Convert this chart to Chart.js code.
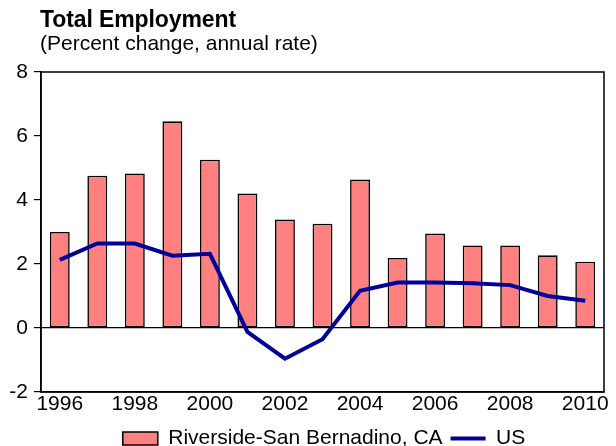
<!DOCTYPE html>
<html>
<head>
<meta charset="utf-8">
<script src="https://cdn.jsdelivr.net/npm/chart.js@4.4.1/dist/chart.umd.min.js"></script>
<style>
  body { margin: 0; background: #fff; }
  #wrap { position: relative; width: 616px; height: 446px; }
  .t { position: absolute; left: 40px; font-family: 'Liberation Sans', Arial, sans-serif; color: #000; line-height: 1; white-space: nowrap; }
  #title { top: 8px; font-size: 23px; font-weight: bold; letter-spacing: -0.1px; }
  #subtitle { top: 32px; font-size: 21px; }
</style>
</head>
<body>
<div id="wrap">
  <div class="t" id="title">Total Employment</div>
  <div class="t" id="subtitle">(Percent change, annual rate)</div>
  <canvas id="chart"></canvas>
</div>
<script>
// Dados
const years = ['1996', '1997', '1998', '1999', '2000', '2001', '2002', '2003', '2004', '2005', '2006', '2007', '2008', '2009', '2010'];
const riverside = [3.0, 4.76, 4.83, 6.46, 5.26, 4.2, 3.39, 3.26, 4.64, 2.19, 2.95, 2.58, 2.58, 2.27, 2.07];
const us = [2.13, 2.64, 2.64, 2.26, 2.32, -0.12, -0.96, -0.35, 1.16, 1.42, 1.42, 1.40, 1.34, 1.0, 0.85];
const yTicks = [-2, 0, 2, 4, 6, 8];

const fontFamily = "'Liberation Sans', Arial, sans-serif";
Chart.defaults.font.family = fontFamily;
Chart.defaults.color = '#000';

// caixa em volta da área do gráfico + legenda um pouco à direita
const frameBox = {
  id: 'frameBox',
  afterLayout(chart) {
    chart.legend.left += 22;
    chart.legend.right += 22;
  },
  afterDraw(chart) {
    const { ctx, chartArea: a } = chart;
    ctx.save();
    ctx.strokeStyle = '#000';
    ctx.lineWidth = 1.5;
    ctx.strokeRect(a.left, a.top, a.right - a.left, a.bottom - a.top);
    ctx.restore();
  }
};

new Chart(document.getElementById('chart'), {
  data: {
    labels: years,
    datasets: [
      { type: 'bar', label: 'Riverside-San Bernadino, CA', data: riverside, order: 1,
        backgroundColor: '#FF8080', borderColor: '#000', borderWidth: 1.6, borderSkipped: false,
        barPercentage: 0.53, categoryPercentage: 1, pointStyle: 'rect' },
      { type: 'line', label: 'US', data: us, order: 0,
        borderColor: '#000099', backgroundColor: '#000099', borderWidth: 4, pointRadius: 0,
        tension: 0, pointStyle: 'line' }
    ]
  },
  options: {
    responsive: true, maintainAspectRatio: false, animation: false,
    layout: { padding: { left: 0, right: 12, top: 72, bottom: -13 } },
    plugins: {
      title: { display: false },
      tooltip: { enabled: false },
      legend: {
        position: 'bottom',
        labels: {
          font: { size: 21 }, color: '#000', usePointStyle: true, pointStyleWidth: 35,
          boxHeight: 13, padding: 8,
          sort: (a, b) => a.datasetIndex - b.datasetIndex
        }
      }
    },
    scales: {
      x: {
        offset: true,
        grid: { display: false, drawTicks: false },
        border: { color: '#000', width: 1.5 },
        ticks: { autoSkip: false, maxRotation: 0, padding: 0, font: { size: 21 },
          callback: (v, i) => i % 2 === 0 ? years[i] : '' },
        afterFit: (s) => { s.height = 28; }
      },
      y: {
        min: -2, max: 8,
        afterBuildTicks: (s) => { s.ticks = yTicks.map(v => ({ value: v })); },
        grid: { color: (c) => c.tick && c.tick.value === 0 ? '#000' : 'rgba(0,0,0,0)', tickColor: '#000', tickLength: 7, lineWidth: 1.2 },
        border: { color: '#000', width: 1.5 },
        ticks: { padding: 6, font: { size: 21 } },
        afterFit: (s) => { s.width = 41; }
      }
    }
  },
  plugins: [frameBox]
});
</script>
</body>
</html>
